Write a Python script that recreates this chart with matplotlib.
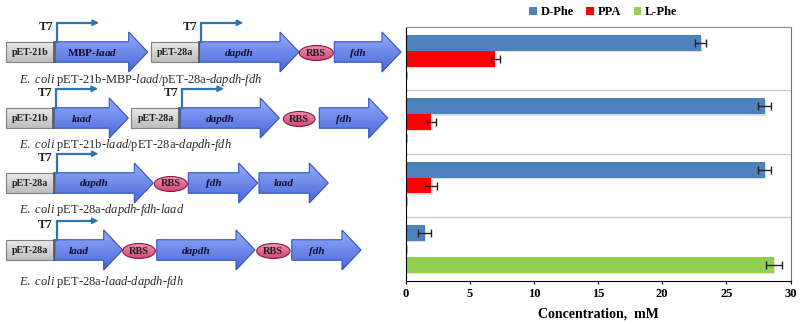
import numpy as np
import matplotlib
matplotlib.use('Agg')
import matplotlib.pyplot as plt
import matplotlib.patheffects as pe
from matplotlib.patches import Polygon, Rectangle, Ellipse, Patch
from matplotlib.colors import LinearSegmentedColormap

plt.rcParams['font.family'] = 'Liberation Serif'
plt.rcParams['mathtext.fontset'] = 'custom'
plt.rcParams['mathtext.rm'] = 'Liberation Serif'
plt.rcParams['mathtext.it'] = 'Liberation Serif:italic'
plt.rcParams['mathtext.bf'] = 'Liberation Serif:bold'
plt.rcParams['mathtext.bfit'] = 'Liberation Serif:italic:bold'

# --- product titres per strain (mM), top to bottom ---
products = ['D-Phe', 'PPA', 'L-Phe']
d_phe = [23.0, 28.0, 28.0, 1.5]
d_phe_err = [0.45, 0.5, 0.5, 0.5]
ppa = [7.0, 2.0, 2.0, 0.0]
ppa_err = [0.35, 0.35, 0.45, 0.0]
l_phe = [0.0, 0.0, 0.0, 28.7]
l_phe_err = [0.0, 0.0, 0.0, 0.6]
x_ticks = [0, 5, 10, 15, 20, 25, 30]

# --- expression constructs ---
construct_captions = [
    r'$\mathit{E.}$ $\mathit{coli}$ pET-21b-MBP-$\mathit{laad}$/pET-28a-$\mathit{dapdh}$-$\mathit{fdh}$',
    r'$\mathit{E.}$ $\mathit{coli}$ pET-21b-$\mathit{laad}$/pET-28a-$\mathit{dapdh}$-$\mathit{fdh}$',
    r'$\mathit{E.}$ $\mathit{coli}$ pET-28a-$\mathit{dapdh}$-$\mathit{fdh}$-$\mathit{laad}$',
    r'$\mathit{E.}$ $\mathit{coli}$ pET-28a-$\mathit{laad}$-$\mathit{dapdh}$-$\mathit{fdh}$',
]
construct_parts = [
    [('vec', 'pET-21b'), ('gene', r'MBP-$\mathbfit{laad}$'), ('vec', 'pET-28a'),
     ('gene', 'dapdh'), ('rbs', 'RBS'), ('gene', 'fdh')],
    [('vec', 'pET-21b'), ('gene', 'laad'), ('vec', 'pET-28a'),
     ('gene', 'dapdh'), ('rbs', 'RBS'), ('gene', 'fdh')],
    [('vec', 'pET-28a'), ('gene', 'dapdh'), ('rbs', 'RBS'),
     ('gene', 'fdh'), ('gene', 'laad')],
    [('vec', 'pET-28a'), ('gene', 'laad'), ('rbs', 'RBS'),
     ('gene', 'dapdh'), ('rbs', 'RBS'), ('gene', 'fdh')],
]

# layout of the diagram in pixel units (x right, y down)
part_spans = [
    [(6, 55), (55, 147.7), (151, 199.3), (199.3, 299), (299.3, 333.3), (334.3, 401)],
    [(6, 54), (54, 128.3), (131, 180), (180, 279.3), (283.3, 315), (319.3, 387.7)],
    [(6, 54.5), (54.5, 153.3), (154.3, 187.3), (188.3, 257.7), (259, 328.3)],
    [(6, 54.5), (54.5, 122.7), (122.7, 155.3), (156.7, 255), (256.7, 290), (291.7, 361)],
]
row_y = [52, 118, 183, 250]
caption_y = [80, 145, 210, 281.5]
shaft_h = 20.5
head_h = 40
head_len = 19
rbs_h = 15

fig = plt.figure(figsize=(8.11, 3.24), dpi=100)
axd = fig.add_axes([0, 0, 1, 1], zorder=0)


def gradient_fill(ax, patch, c_top, c_bot, x0, x1, y0, y1, z):
    patch.set_zorder(z + 0.1)
    ax.add_patch(patch)
    cmap = LinearSegmentedColormap.from_list('g', [c_top, c_bot])
    im = ax.imshow(np.linspace(0, 1, 64)[:, None], cmap=cmap, aspect='auto',
                   extent=(x0, x1, y1, y0), zorder=z, interpolation='bilinear')
    im.set_clip_path(patch)


def gene_arrow(ax, x0, x1, yc, label):
    hs = x1 - head_len
    pts = [(x0, yc - shaft_h / 2), (hs, yc - shaft_h / 2), (hs, yc - head_h / 2),
           (x1, yc), (hs, yc + head_h / 2), (hs, yc + shaft_h / 2), (x0, yc + shaft_h / 2)]
    poly = Polygon(pts, closed=True, facecolor='none', edgecolor='#3552b8', lw=0.8)
    gradient_fill(ax, poly, '#93acf8', '#4868dc', x0, x1, yc - head_h / 2, yc + head_h / 2, 2)
    style = 'normal' if 'MBP' in label else 'italic'
    ax.text((x0 + hs) / 2, yc + 1, label, ha='center', va='center', fontsize=8,
            fontweight='bold', fontstyle=style, color='#101030', zorder=4)


def vector_box(ax, x0, x1, yc, label):
    rect = Rectangle((x0, yc - shaft_h / 2), x1 - x0, shaft_h, facecolor='none',
                     edgecolor='#7f7f7f', lw=0.8)
    gradient_fill(ax, rect, '#ececec', '#bdbdbd', x0, x1, yc - shaft_h / 2, yc + shaft_h / 2, 2)
    ax.plot([x1 - 0.8, x1 - 0.8], [yc - shaft_h / 2, yc + shaft_h / 2], color='#555555',
            lw=1.2, zorder=3)
    ax.text((x0 + x1) / 2, yc + 0.5, label, ha='center', va='center', fontsize=7.2,
            fontweight='bold', color='#202020', zorder=4)
    # T7 promoter bent arrow starting at the box edge
    px = x1 + 2
    top = yc - shaft_h / 2 - 19
    ax.plot([px, px, px + 36], [yc - shaft_h / 2, top, top], color='#2e75b6', lw=1.6,
            solid_joinstyle='miter', zorder=3)
    ax.annotate('', xy=(px + 42, top), xytext=(px + 34, top), zorder=3,
                arrowprops=dict(arrowstyle='-|>', color='#2e75b6', lw=1.2,
                                mutation_scale=9, shrinkA=0, shrinkB=0))
    ax.text(px - 4, top + 4, 'T7', ha='right', va='center', fontsize=9,
            fontweight='bold', color='#202020', zorder=4)


def rbs_site(ax, x0, x1, yc, label):
    ell = Ellipse(((x0 + x1) / 2, yc + 1), x1 - x0, rbs_h, facecolor='none',
                  edgecolor='#7a2048', lw=0.8)
    gradient_fill(ax, ell, '#f590b0', '#d84878', x0, x1, yc + 1 - rbs_h / 2, yc + 1 + rbs_h / 2, 2)
    ax.text((x0 + x1) / 2, yc + 1, label, ha='center', va='center', fontsize=7.5,
            fontweight='bold', color='#202020', zorder=4)


drawers = {'gene': gene_arrow, 'vec': vector_box, 'rbs': rbs_site}
for parts, spans, yc, cy, cap in zip(construct_parts, part_spans, row_y, caption_y,
                                     construct_captions):
    for (kind, label), (x0, x1) in zip(parts, spans):
        drawers[kind](axd, x0, x1, yc, label)
    axd.text(19, cy, cap, ha='left', va='center', fontsize=9, color='#2a2a2a')

axd.set_xlim(0, 811)
axd.set_ylim(324, 0)
axd.axis('off')

# --- bar chart ---
ax = fig.add_axes([405.5 / 811, 43.3 / 324, 385 / 811, 253.7 / 324], zorder=1)
ax.patch.set_alpha(0)
y = np.arange(len(d_phe))
bh = 0.25
colors = ['#4f81bd', '#ff0000', '#92d050']
series = [(d_phe, d_phe_err), (ppa, ppa_err), (l_phe, l_phe_err)]
shadow = [pe.SimplePatchShadow(offset=(1, -1), alpha=0.15), pe.Normal()]
for k, ((vals, errs), col) in enumerate(zip(series, colors)):
    bars = ax.barh(y + (k - 1) * bh, vals, height=bh, color=col,
                   xerr=errs, error_kw=dict(ecolor='#222222', elinewidth=1,
                                            capsize=3, capthick=1))
    for b in bars:
        b.set_path_effects(shadow)

for sep in y[:-1] + 0.5:
    ax.axhline(sep, color='#c8c8c8', lw=1, zorder=0)

ax.set_xlim(0, 30)
ax.set_ylim(len(d_phe) - 0.5, -0.5)
ax.set_xticks(x_ticks)
ax.set_yticks([])
ax.tick_params(axis='x', length=2, pad=3, labelsize=9)
for t in ax.get_xticklabels():
    t.set_fontweight('bold')
ax.spines['left'].set_color('black')
ax.spines['bottom'].set_color('black')
ax.spines['top'].set_color('#8c8c8c')
ax.spines['right'].set_color('#6e6e6e')
ax.set_xlabel('Concentration,  mM', fontsize=10, fontweight='bold', labelpad=6)

handles = [Patch(facecolor=c, label=n) for c, n in zip(colors, products)]
ax.legend(handles=handles, loc='center', bbox_to_anchor=(0.744, 0.963),
          bbox_transform=fig.transFigure, ncol=3, frameon=False, handlelength=0.6,
          handleheight=0.6, handletextpad=0.3, columnspacing=1.0,
          prop=dict(weight='bold', size=9))

fig.savefig('out.png', dpi=100)
